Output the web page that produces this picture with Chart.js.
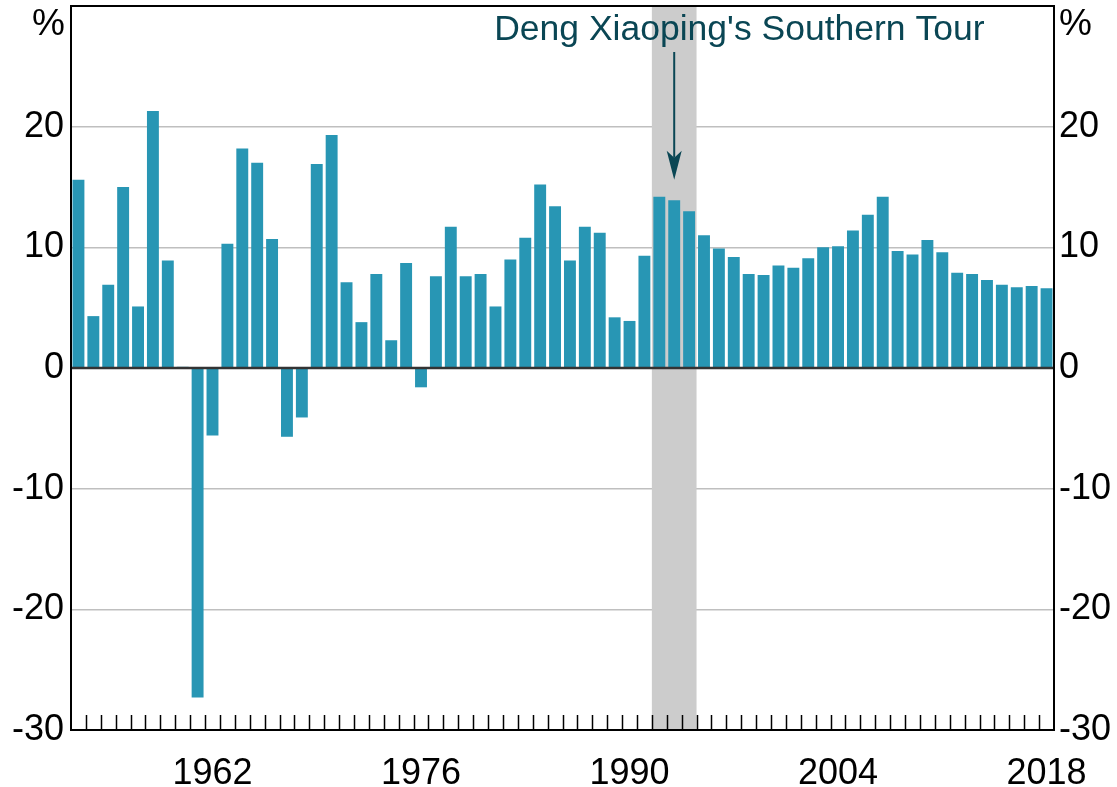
<!DOCTYPE html>
<html><head><meta charset="utf-8">
<script src="https://cdn.jsdelivr.net/npm/chart.js@4/dist/chart.umd.min.js"></script>
<style>html,body{margin:0;padding:0;background:#fff}#wrap{width:1117px;height:787px}</style>
</head><body><div id="wrap"><canvas id="c" width="1117" height="787"></canvas></div>
<script>
const years = ['1953','1954','1955','1956','1957','1958','1959','1960','1961','1962',
  '1963','1964','1965','1966','1967','1968','1969','1970','1971','1972',
  '1973','1974','1975','1976','1977','1978','1979','1980','1981','1982',
  '1983','1984','1985','1986','1987','1988','1989','1990','1991','1992',
  '1993','1994','1995','1996','1997','1998','1999','2000','2001','2002',
  '2003','2004','2005','2006','2007','2008','2009','2010','2011','2012',
  '2013','2014','2015','2016','2017','2018'];
const growth = [15.6,4.3,6.9,15.0,5.1,21.3,8.9,0.1,-27.3,-5.6,
  10.3,18.2,17.0,10.7,-5.7,-4.1,16.9,19.3,7.1,3.8,
  7.8,2.3,8.7,-1.6,7.6,11.7,7.6,7.8,5.1,9.0,
  10.8,15.2,13.4,8.9,11.7,11.2,4.2,3.9,9.3,14.2,
  13.9,13.0,11.0,9.9,9.2,7.8,7.7,8.5,8.3,9.1,
  10.0,10.1,11.4,12.7,14.2,9.7,9.4,10.6,9.6,7.9,
  7.8,7.3,6.9,6.7,6.8,6.6];
const xTickLabels = ['1962','1976','1990','2004','2018'];
const yMin = -30, yMax = 30, yStep = 10;
const unitLabel = '%';
const annotationText = "Deng Xiaoping's Southern Tour";
const shadedYears = ['1992','1993','1994'];
const arrowYear = '1993';

const FONT = '"Liberation Sans", Arial, sans-serif';
const BAR = '#2896b4';
const NOTE = '#0a4654';

const overlay = {
  id: 'overlay',
  beforeDatasetsDraw(chart) {
    const {ctx, chartArea: a, scales: {x}} = chart;
    const slot = x.width / years.length;
    const i0 = years.indexOf(shadedYears[0]);
    const i1 = years.indexOf(shadedYears[shadedYears.length - 1]);
    const l = x.getPixelForValue(i0) - slot / 2;
    const r = x.getPixelForValue(i1) + slot / 2;
    ctx.save();
    ctx.fillStyle = '#cccccc';
    ctx.fillRect(l, a.top, r - l, a.bottom - a.top);
    ctx.restore();
  },
  afterDatasetsDraw(chart) {
    const {ctx, chartArea: a, scales: {y}} = chart;
    const py = y.getPixelForValue(0);
    ctx.save();
    ctx.strokeStyle = '#333333';
    ctx.lineWidth = 2.5;
    ctx.beginPath();
    ctx.moveTo(a.left, py);
    ctx.lineTo(a.right, py);
    ctx.stroke();
    ctx.restore();
  },
  afterDraw(chart) {
    const {ctx, chartArea: a, scales: {x, y}} = chart;
    const slot = x.width / years.length;
    ctx.save();
    ctx.strokeStyle = '#000';
    ctx.lineWidth = 1.5;
    ctx.beginPath();
    for (let i = 1; i < years.length; i++) {
      const px = Math.round(x.getPixelForValue(i) - slot / 2) + 0.5;
      ctx.moveTo(px, a.bottom);
      ctx.lineTo(px, a.bottom - 15);
    }
    ctx.stroke();
    ctx.lineWidth = 2;
    ctx.strokeRect(a.left, a.top, a.right - a.left, a.bottom - a.top);
    ctx.fillStyle = '#000';
    ctx.font = '37px ' + FONT;
    ctx.textBaseline = 'alphabetic';
    ctx.textAlign = 'right';
    ctx.fillText(unitLabel, a.left - 6, a.top + 29);
    ctx.textAlign = 'left';
    ctx.fillText(unitLabel, a.right + 5, a.top + 29);
    const ax = x.getPixelForValue(years.indexOf(arrowYear));
    ctx.fillStyle = NOTE;
    ctx.font = '35.5px ' + FONT;
    ctx.textAlign = 'left';
    ctx.fillText(annotationText, ax - 180, a.top + 34);
    const tipY = y.getPixelForValue(growth[years.indexOf(arrowYear)] + 1.7);
    ctx.strokeStyle = NOTE;
    ctx.lineWidth = 2;
    ctx.beginPath();
    ctx.moveTo(ax, a.top + 46);
    ctx.lineTo(ax, tipY - 22);
    ctx.stroke();
    ctx.beginPath();
    ctx.moveTo(ax - 7.5, tipY - 29);
    ctx.lineTo(ax, tipY - 22);
    ctx.lineTo(ax + 7.5, tipY - 29);
    ctx.lineTo(ax, tipY);
    ctx.closePath();
    ctx.fill();
    ctx.restore();
  }
};

new Chart(document.getElementById('c'), {
  type: 'bar',
  data: {
    labels: years,
    datasets: [{
      data: growth,
      backgroundColor: BAR,
      borderWidth: 0,
      categoryPercentage: 1.0,
      barPercentage: 0.8,
      yAxisID: 'y'
    }]
  },
  options: {
    responsive: false,
    devicePixelRatio: 1,
    animation: false,
    layout: {padding: {top: 6, left: 0, right: 0, bottom: 0}},
    plugins: {legend: {display: false}, tooltip: {enabled: false}},
    scales: {
      x: {
        type: 'category',
        grid: {display: false},
        border: {display: false},
        ticks: {
          autoSkip: false, maxRotation: 0, minRotation: 0,
          color: '#000', font: {family: FONT, size: 36}, padding: 14,
          callback(v, i) { const l = years[i]; return xTickLabels.includes(l) ? l : ''; }
        },
        afterFit(s) { s.height = 57; s.paddingLeft = 0; s.paddingRight = 0; }
      },
      y: {
        position: 'left', min: yMin, max: yMax,
        border: {display: false},
        grid: {
          drawTicks: false,
          color: '#bfbfbf',
          lineWidth: c => (c.tick.value === yMin || c.tick.value === yMax || c.tick.value === 0) ? 0 : 1.5
        },
        ticks: {
          stepSize: yStep, color: '#000', font: {family: FONT, size: 36}, padding: 7,
          callback: v => v === yMax ? '' : v
        },
        afterFit(s) { s.width = 71; s.paddingTop = 0; s.paddingBottom = 0; }
      },
      y2: {
        position: 'right', min: yMin, max: yMax,
        border: {display: false},
        grid: {display: false, drawTicks: false},
        ticks: {
          stepSize: yStep, color: '#000', font: {family: FONT, size: 36}, padding: 5,
          callback: v => v === yMax ? '' : v
        },
        afterFit(s) { s.width = 63; s.paddingTop = 0; s.paddingBottom = 0; }
      }
    }
  },
  plugins: [overlay]
});
</script></body></html>
